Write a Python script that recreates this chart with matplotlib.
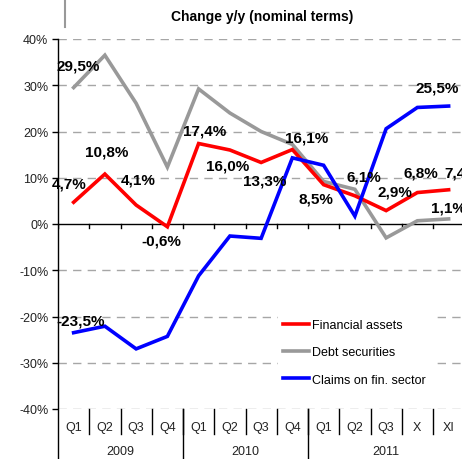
import matplotlib
matplotlib.use("Agg")
import matplotlib.pyplot as plt
from matplotlib.lines import Line2D

plt.rcParams['font.family'] = ['Liberation Sans', 'DejaVu Sans']

# Data (y/y change, %)
quarters = ["Q1", "Q2", "Q3", "Q4", "Q1", "Q2", "Q3", "Q4", "Q1", "Q2", "Q3", "X", "XI"]
years = ["2009", "2010", "2011"]
year_spans = [(0, 4), (4, 8), (8, 13)]

financial_assets = [4.7, 10.8, 4.1, -0.6, 17.4, 16.0, 13.3, 16.1, 8.5, 6.1, 2.9, 6.8, 7.4]
debt_securities = [29.5, 36.5, 26.1, 12.3, 29.2, 24.0, 20.0, 17.2, 9.2, 7.5, -3.0, 0.7, 1.1]
claims_fin_sector = [-23.5, -22.1, -27.0, -24.3, -11.2, -2.6, -3.1, 14.3, 12.7, 1.7, 20.6, 25.2, 25.5]

# which points get a value label, with offsets in pixels (dx, dy)
fa_label_offsets = [(-4, 19), (2, 23), (2, 26), (-6, -14), (6, 13), (-2, -16), (4, -18),
                    (14, 12), (-8, -14), (9, 19), (9, 19), (3, 20), (13, 17)]
ds_label_points = {0: (5, 22), 12: (0, 11)}
cl_label_points = {0: (7, 12), 12: (-11, 19)}

W, H = 462, 460
fig = plt.figure(figsize=(W / 100, H / 100), dpi=100)
ax = fig.add_axes([58 / W, 50 / H, 406.25 / W, 370 / H])

x = list(range(len(quarters)))
ax.set_xlim(-0.5, len(quarters) - 0.5)
ax.set_ylim(-40, 40)

# grid lines
for v in range(-40, 41, 10):
    if v != 0:
        ax.axhline(v, color='#a6a6a6', lw=1, dashes=(6, 4.5), zorder=0)
ax.axhline(0, color='black', lw=1, zorder=1)
for b in range(len(quarters) + 1):
    ax.plot([b - 0.5, b - 0.5], [0, -0.9], color='black', lw=1, zorder=1)

red, = ax.plot(x, financial_assets, color='#ff0000', lw=2.6, solid_joinstyle='miter', zorder=3)
gray, = ax.plot(x, debt_securities, color='#999999', lw=2.6, solid_joinstyle='miter', zorder=2)
blue, = ax.plot(x, claims_fin_sector, color='#0000ff', lw=2.6, solid_joinstyle='miter', zorder=4)


def pct(v):
    return f"{v:.1f}%".replace('.', ',')


lab_kw = dict(textcoords='offset pixels', ha='center', va='center',
              fontsize=11, fontweight='bold', color='black', zorder=6,
              annotation_clip=False)
for i, (dx, dy) in enumerate(fa_label_offsets):
    ax.annotate(pct(financial_assets[i]), (i, financial_assets[i]), xytext=(dx, dy), **lab_kw)
for i, (dx, dy) in ds_label_points.items():
    ax.annotate(pct(debt_securities[i]), (i, debt_securities[i]), xytext=(dx, dy), **lab_kw)
for i, (dx, dy) in cl_label_points.items():
    ax.annotate(pct(claims_fin_sector[i]), (i, claims_fin_sector[i]), xytext=(dx, dy), **lab_kw)

# axes styling
for s in ax.spines.values():
    s.set_visible(False)
ax.set_yticks(range(-40, 41, 10))
ax.set_yticklabels([f"{v}%" for v in range(-40, 41, 10)], fontsize=9, color='#222222')
ax.tick_params(axis='y', length=4, width=1, color='black', pad=3)
ax.set_xticks([])

# left axis line running down through the category area
ax.add_line(Line2D([0, 0], [1, -0.14], transform=ax.transAxes, color='black',
                   lw=1, clip_on=False))

# two-level category axis
trans = ax.get_xaxis_transform()
lvl1_y = -18 / 370
lvl2_y = -42 / 370
for i, q in enumerate(quarters):
    ax.text(i, lvl1_y, q, transform=trans, ha='center', va='center', fontsize=9, color='#222222')
for b in range(1, len(quarters)):
    ax.plot([b - 0.5, b - 0.5], [0, -25 / 370], transform=trans, color='black', lw=1, clip_on=False)
for yr, (a, b) in zip(years, year_spans):
    ax.text((a + b - 1) / 2, lvl2_y, yr, transform=trans, ha='center', va='center',
            fontsize=9, color='#222222')
    if a > 0:
        ax.plot([a - 0.5, a - 0.5], [0, -0.14], transform=trans, color='black', lw=1, clip_on=False)

leg = ax.legend([red, gray, blue], ["Financial assets", "Debt securities", "Claims on fin. sector"],
                loc='upper left', bbox_to_anchor=(278 / W, 1 - 315 / H),
                bbox_transform=fig.transFigure, fontsize=9, frameon=True, fancybox=False,
                edgecolor='white', framealpha=1, handlelength=2.1, handletextpad=0.2,
                labelspacing=1.23, borderpad=0.4, borderaxespad=0)
leg.set_zorder(5)

fig.text(262.5 / W, 1 - 17 / H, "Change y/y (nominal terms)", ha='center', va='center',
         fontsize=10, fontweight='bold')
fig.add_artist(Line2D([64.5 / W, 64.5 / W], [1 - 2 / H, 1 - 28 / H], transform=fig.transFigure,
                      color='#999999', lw=1.5))

fig.savefig("out.png", dpi=100)
